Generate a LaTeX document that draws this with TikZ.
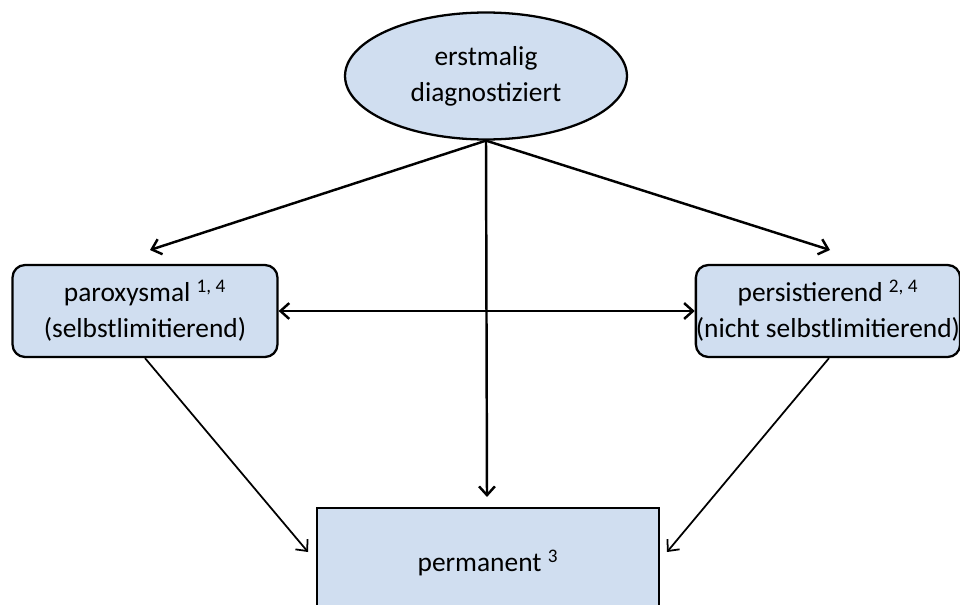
\documentclass[tikz,border=0pt]{standalone}
\usepackage{fontspec}
\setmainfont{Carlito}
\usetikzlibrary{arrows.meta,shapes.geometric}
\definecolor{boxblue}{RGB}{208,222,240}
\tikzset{
	stadium/.style={draw, line width=1.3pt, fill=boxblue, align=center, inner sep=0pt, font=\fontsize{15.6}{20.5}\selectfont},
	thickarrow/.style={line width=1.4pt, -{Straight Barb[length=5pt,width=9pt]}},
	thinarrow/.style={line width=1pt, -{Straight Barb[length=5pt,width=9pt]}}
}

\begin{document}
\begin{tikzpicture}[x=0.02cm, y=-0.02cm]
		%%%%% START %%%%%
		\useasboundingbox (0, 0) rectangle (960, 605);
		\clip (0, 0) rectangle (960, 605);
		
		\node[stadium, ellipse, minimum width=5.64cm, minimum height=2.54cm] (erst) at (486, 76) {erstmalig\\diagnostiziert};
		
		\node[stadium, rounded corners=0.25cm, minimum width=5.3cm, minimum height=1.84cm] (parox) at (145, 311) {paroxysmal \textsuperscript{1, 4}\\(selbstlimitierend)};
		\node[stadium, rounded corners=0.25cm, minimum width=5.22cm, minimum height=1.84cm] (persist) at (828, 311) {persistierend \textsuperscript{2, 4}\\(nicht selbstlimitierend)};
		
		\node[stadium, minimum width=6.84cm, minimum height=2.2cm] (perm) at (488, 563) {permanent \textsuperscript{3}};
		
		% arrow ends
		\coordinate (paroxin) at (150, 250);
		\coordinate (persistin) at (830, 250);
		\coordinate (permtop) at (487, 497);
		\coordinate (permleft) at (308, 552);
		\coordinate (permright) at (667, 552);
		
		\draw[thickarrow] (erst.south) -- (paroxin);
		\draw[thickarrow] (erst.south) -- (persistin);
		\draw[thickarrow] (erst.south) -- (permtop);
		
		\draw[thickarrow, {Straight Barb[length=5pt,width=9pt]}-{Straight Barb[length=5pt,width=9pt]}] (parox.east) -- (persist.west);
		
		\draw[thinarrow] (parox.south) -- (permleft);
		\draw[thinarrow] ([xshift=0.02cm]persist.south) -- (permright);
		
		%%%%% END %%%%%
	\end{tikzpicture}
\end{document}
